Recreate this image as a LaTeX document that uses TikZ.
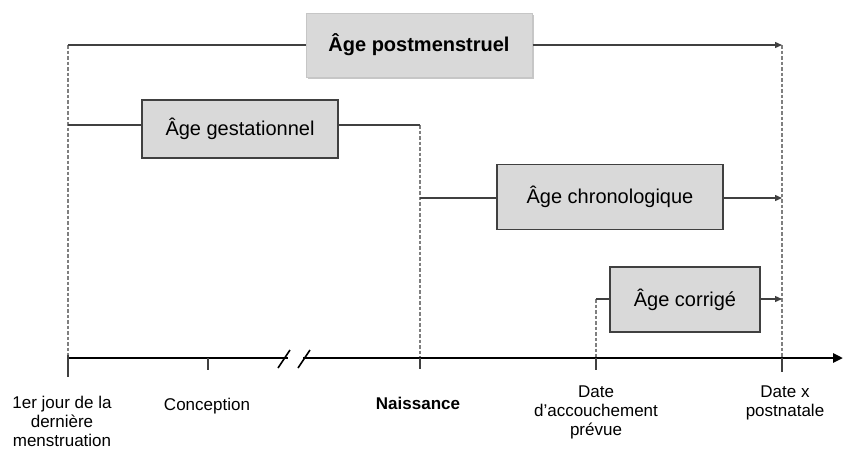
\documentclass[tikz,border=0pt]{standalone}
\usepackage{fontspec}
\setmainfont{Liberation Sans}
\usetikzlibrary{arrows.meta,shadows}
\definecolor{boxfill}{HTML}{D9D9D9}
\definecolor{linegray}{HTML}{404040}
\definecolor{dashgray}{HTML}{7F7F7F}
\tikzset{
  agebox/.style={draw=linegray, line width=1.3pt, fill=boxfill, inner sep=0pt,
    font=\fontsize{20}{24}\selectfont},
  pmbox/.style={draw=gray!45, line width=1pt, fill=boxfill, inner sep=0pt,
    font=\fontsize{20}{24}\selectfont\bfseries,
    drop shadow={shadow xshift=2pt, shadow yshift=-2pt, fill=gray!55, opacity=0.8}},
  conn/.style={draw=linegray, line width=1.3pt},
  connarrow/.style={conn, -{Triangle[length=7pt,width=6pt]}},
  guide/.style={draw=dashgray, line width=2pt, dash pattern=on 3.5pt off 2pt},
  axisline/.style={draw=black, line width=2.8pt},
  tick/.style={draw=linegray, line width=2pt},
  lab/.style={anchor=north, align=center, inner sep=0pt,
    font=\fontsize{17}{19}\selectfont}
}
\begin{document}
\begin{tikzpicture}[x=1pt,y=-1pt]
\useasboundingbox (0,0) rectangle (843,450);

% timeline points
\coordinate (t0) at (68,358);
\coordinate (t1) at (208,358);
\coordinate (t2) at (420,358);
\coordinate (t3) at (596,358);
\coordinate (t4) at (782,358);
\coordinate (brkL) at (288,358);
\coordinate (brkR) at (303,358);
\coordinate (axend) at (843,358);

% upper end points
\coordinate (p0) at (68,45);
\coordinate (p4) at (782,45);
\coordinate (g0) at (68,125);
\coordinate (g2) at (420,125);
\coordinate (c2) at (420,198);
\coordinate (c4) at (782,198);
\coordinate (a3) at (596,299);
\coordinate (a4) at (782,299);

% dashed guides
\draw[guide] (p0) -- (t0);
\draw[guide] (g2) -- (t2);
\draw[guide] (a3) -- (t3);
\draw[guide] (p4) -- (t4);

% boxes
\node[pmbox, minimum width=226pt, minimum height=64pt] (pm) at (419,45) {Âge postmenstruel};
\node[agebox, minimum width=196pt, minimum height=58pt] (ga) at (240,129) {Âge gestationnel};
\node[agebox, minimum width=226pt, minimum height=65pt] (ca) at (610,197) {Âge chronologique};
\node[agebox, minimum width=150pt, minimum height=65pt] (ac) at (685,299.5) {Âge corrigé};

% connectors
\draw[conn] (p0) -- (pm.west |- p0);
\draw[connarrow] (pm.east |- p4) -- (p4);
\draw[conn] (g0) -- (ga.west |- g0);
\draw[conn] (ga.east |- g2) -- (g2);
\draw[conn] (c2) -- (ca.west |- c2);
\draw[connarrow] (ca.east |- c4) -- (c4);
\draw[conn] (a3) -- (ac.west |- a3);
\draw[connarrow] (ac.east |- a4) -- (a4);

% axis
\draw[axisline] (t0) -- (brkL);
\draw[axisline, -{Triangle[length=10pt,width=9pt]}] (brkR) -- (axend);
\draw[draw=black, line width=1.6pt] (278,368) -- (290,350);
\draw[draw=black, line width=1.6pt] (298,368) -- (310,350);

% ticks
\draw[tick] ([yshift=3pt]t0) -- ++(0,22);
\draw[tick] (t1) -- ++(0,12);
\draw[tick] (t2) -- ++(0,11);
\draw[tick] (t3) -- ++(0,12);
\draw[tick] (t4) -- ++(0,14);

% labels
\node[lab] (l0) at (62,395.5) {1er jour de la\\dernière\\menstruation};
\node[lab] (l1) at (207,398) {Conception};
\node[lab, font=\fontsize{17}{19}\selectfont\bfseries] (l2) at (418,397) {Naissance};
\node[lab] (l3) at (596,386) {Date\\d’accouchement\\prévue};
\node[lab] (l4) at (785,386) {Date x\\postnatale};
\end{tikzpicture}
\end{document}
